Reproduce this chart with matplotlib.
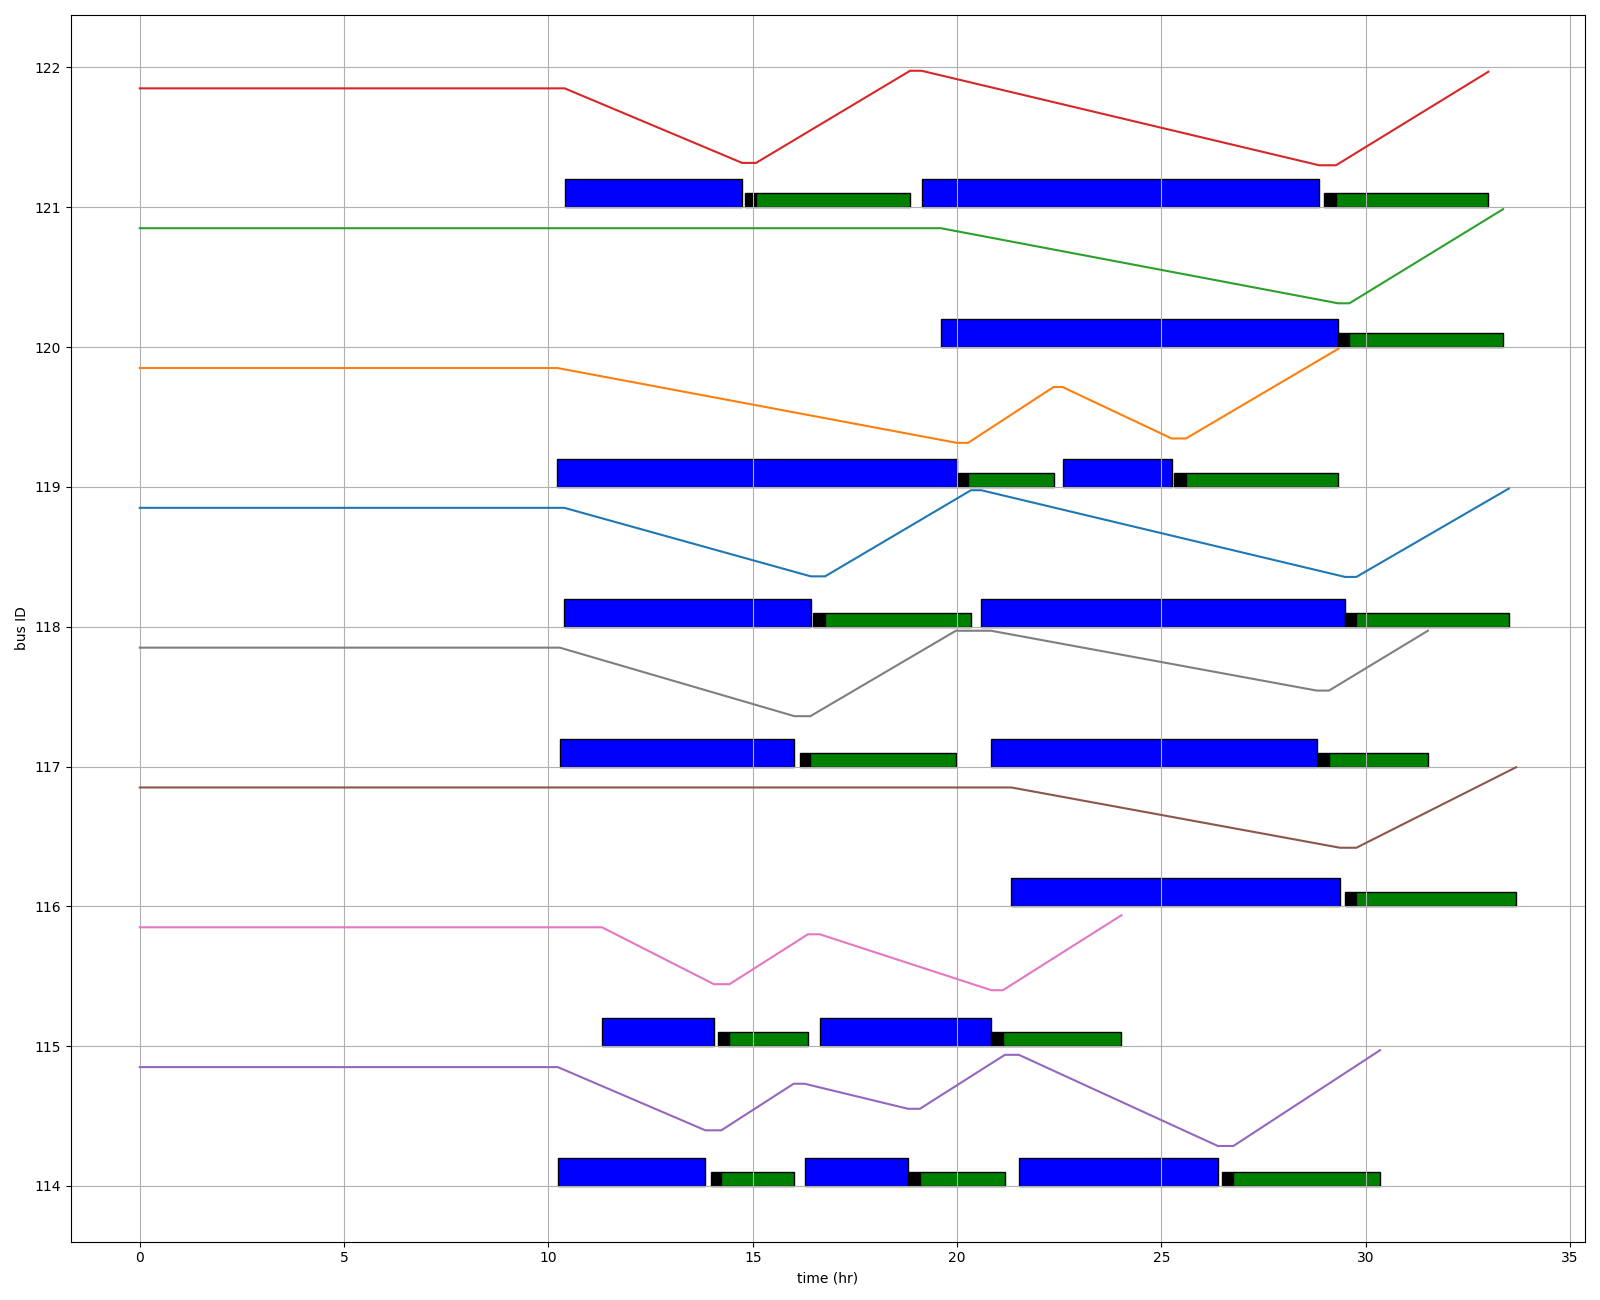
import matplotlib
matplotlib.use("Agg")
import matplotlib.pyplot as plt

bus_ids = [114, 115, 116, 117, 118, 119, 120, 121]
y_ticks = [114, 115, 116, 117, 118, 119, 120, 121, 122]
line_colors = ["tab:purple", "tab:pink", "tab:brown", "tab:gray",
               "tab:blue", "tab:orange", "tab:green", "tab:red"]

initial_soc = 0.85

trip_start = [[10.23, 16.27, 21.51], [11.31, 16.64], [21.33], [10.28, 20.83],
              [10.39, 20.59], [10.22, 22.58], [19.60], [10.40, 19.13]]
trip_end = [[13.84, 18.80, 26.38], [14.05, 20.84], [29.37], [16.02, 28.80],
            [16.42, 29.49], [19.99, 25.25], [29.32], [14.74, 28.86]]
plug_start = [[13.99, 18.80, 26.49], [14.16, 20.84], [29.50], [16.15, 28.84],
              [16.48, 29.49], [20.01, 25.31], [29.32], [14.82, 28.97]]
charge_start = [[14.23, 19.09, 26.76], [14.43, 21.12], [29.77], [16.41, 29.10],
                [16.77, 29.77], [20.27, 25.60], [29.60], [15.08, 29.27]]
charge_end = [[16.00, 21.17, 30.35], [16.35, 24.02], [33.68], [19.97, 31.52],
              [20.34, 33.50], [22.36, 29.33], [33.36], [18.85, 33.00]]
soc_after_trip = [[0.398, 0.552, 0.286], [0.443, 0.400], [0.419], [0.360, 0.543],
                  [0.360, 0.356], [0.315, 0.346], [0.313], [0.317, 0.300]]
soc_after_charge = [[0.731, 0.938, 0.971], [0.800, 0.936], [0.995], [0.971, 0.971],
                    [0.976, 0.988], [0.714, 0.988], [0.986], [0.976, 0.969]]

fig, ax = plt.subplots(figsize=(16, 13), dpi=100)

for i, bus in enumerate(bus_ids):
    # trips
    for ts, te in zip(trip_start[i], trip_end[i]):
        ax.barh(bus, te - ts, left=ts, height=0.2, align="edge",
                color="blue", edgecolor="black", linewidth=1)
    # plug-in and charging
    for ps, cs, ce in zip(plug_start[i], charge_start[i], charge_end[i]):
        ax.barh(bus, cs - ps, left=ps, height=0.1, align="edge",
                color="black", edgecolor="black", linewidth=1)
        ax.barh(bus, ce - cs, left=cs, height=0.1, align="edge",
                color="green", edgecolor="black", linewidth=1)
    # state of charge line
    t = [0.0]
    s = [initial_soc]
    cur = initial_soc
    for k in range(len(trip_start[i])):
        t += [trip_start[i][k], trip_end[i][k], charge_start[i][k], charge_end[i][k]]
        s += [cur, soc_after_trip[i][k], soc_after_trip[i][k], soc_after_charge[i][k]]
        cur = soc_after_charge[i][k]
    ax.plot(t, [bus + v for v in s], color=line_colors[i], linewidth=1.5)

ax.set_yticks(y_ticks)
ax.grid(True)
ax.set_xlabel("time (hr)")
ax.set_ylabel("bus ID")
fig.tight_layout()
fig.savefig("out.png", dpi=100)
